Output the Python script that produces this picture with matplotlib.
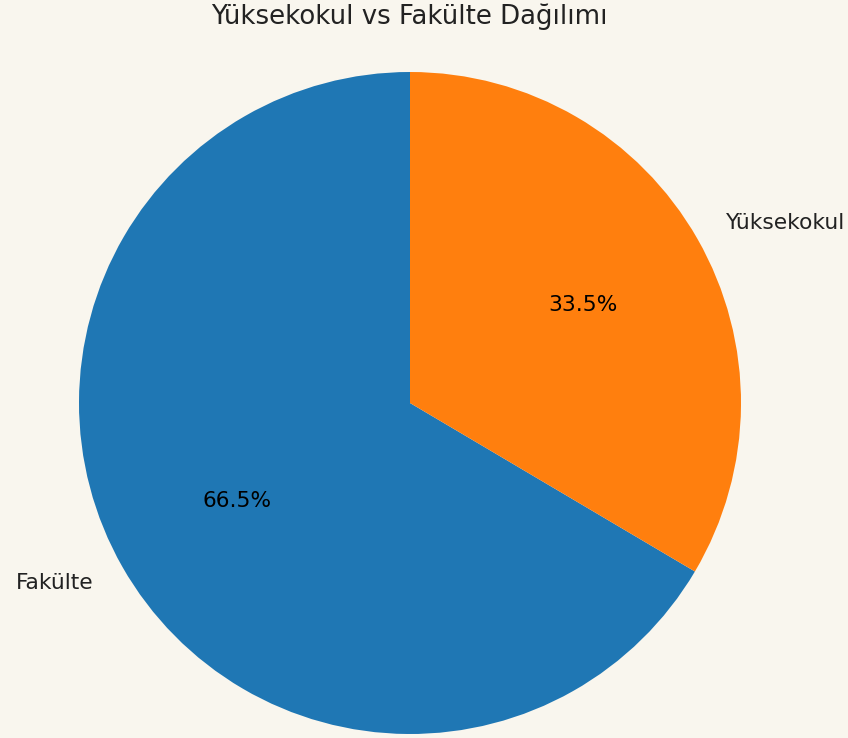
import matplotlib
matplotlib.use('Agg')
import matplotlib.pyplot as plt

# veri
kategoriler = ['Fakülte', 'Yüksekokul']
oranlar = [66.5, 33.5]
renkler = ['#1f77b4', '#ff7f0e']

W, H = 848, 738
arka = '#f9f6ee'
cx, cy = 410, H - 403

fig = plt.figure(figsize=(W / 100, H / 100), dpi=100, facecolor=arka)
ax = fig.add_axes([0, 0, 1, 1])
ax.set_facecolor(arka)

# pasta grafik (piksel koordinatlarinda)
wedges, texts, autotexts = ax.pie(
    oranlar, labels=kategoriler, colors=renkler, autopct='%1.1f%%',
    startangle=90, center=(cx, cy), radius=331,
    textprops={'fontsize': 15.7, 'color': '#222222'})
for t in autotexts:
    t.set_color('black')
# merkez kaydirildigi icin hizalamayi duzelt
for t in texts:
    t.set_ha('right' if t.get_position()[0] < cx else 'left')

ax.set_xlim(0, W)
ax.set_ylim(0, H)
ax.set_aspect('equal')
ax.axis('off')

fig.text(409 / W, 1 - 17 / H, 'Yüksekokul vs Fakülte Dağılımı',
         ha='center', va='center', fontsize=18.7, color='#222222')

fig.savefig('out.png', dpi=100, facecolor=arka)
